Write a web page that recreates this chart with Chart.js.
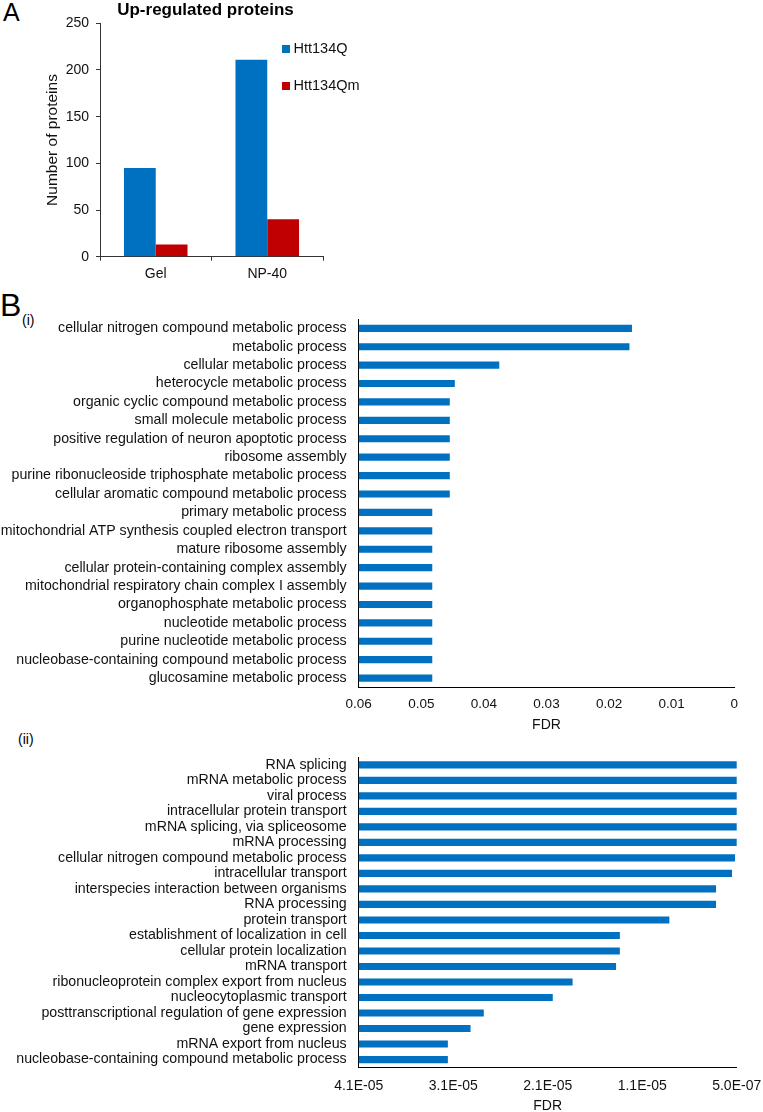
<!DOCTYPE html>
<html>
<head>
<meta charset="utf-8">
<script src="https://cdn.jsdelivr.net/npm/chart.js@4.4.1/dist/chart.umd.min.js"></script>
<style>
  html, body { margin: 0; padding: 0; background: #fff; overflow: hidden; }
  #page { position: relative; width: 763px; height: 1112px; font-family: "Liberation Sans", Arial, sans-serif; color: #000; }
  canvas { position: absolute; left: 0; }
  .tag { position: absolute; line-height: 1; white-space: nowrap; }
</style>
</head>
<body>
<div id="page">
  <div class="tag" style="left:3px; top:0px; font-size:25px;">A</div>
  <div class="tag" style="left:0px; top:289px; font-size:32px;">B</div>
  <div class="tag" style="left:22px; top:313px; font-size:14px;">(i)</div>
  <div class="tag" style="left:18px; top:732px; font-size:14px;">(ii)</div>
  <canvas id="chartA" width="411" height="290" style="top:0px;"></canvas>
  <canvas id="chartB1" width="763" height="438" style="top:300px;"></canvas>
  <canvas id="chartB2" width="763" height="378" style="top:738px;"></canvas>
</div>
<script>
// ---- DATA ----
// panel A: number of up-regulated proteins
const fractions = ['Gel', 'NP-40'];
const htt134Q = [95, 211];
const htt134Qm = [13, 40];
const countTicks = [0, 50, 100, 150, 200, 250];

// panel B(i): GO terms and FDR
const processes1 = [
  'cellular nitrogen compound metabolic process',
  'metabolic process',
  'cellular metabolic process',
  'heterocycle metabolic process',
  'organic cyclic compound metabolic process',
  'small molecule metabolic process',
  'positive regulation of neuron apoptotic process',
  'ribosome assembly',
  'purine ribonucleoside triphosphate metabolic process',
  'cellular aromatic compound metabolic process',
  'primary metabolic process',
  'mitochondrial ATP synthesis coupled electron transport',
  'mature ribosome assembly',
  'cellular protein-containing complex assembly',
  'mitochondrial respiratory chain complex I assembly',
  'organophosphate metabolic process',
  'nucleotide metabolic process',
  'purine nucleotide metabolic process',
  'nucleobase-containing compound metabolic process',
  'glucosamine metabolic process',
];
const fdr1 = [
  0.0164, 0.0168, 0.0376, 0.0447, 0.0455, 0.0455, 0.0455, 0.0455, 0.0455, 0.0455,
  0.0483, 0.0483, 0.0483, 0.0483, 0.0483, 0.0483, 0.0483, 0.0483, 0.0483, 0.0483,
];
const fdr1Ticks = [0, 0.01, 0.02, 0.03, 0.04, 0.05, 0.06];

// panel B(ii): GO terms and FDR
const processes2 = [
  'RNA splicing',
  'mRNA metabolic process',
  'viral process',
  'intracellular protein transport',
  'mRNA splicing, via spliceosome',
  'mRNA processing',
  'cellular nitrogen compound metabolic process',
  'intracellular transport',
  'interspecies interaction between organisms',
  'RNA processing',
  'protein transport',
  'establishment of localization in cell',
  'cellular protein localization',
  'mRNA transport',
  'ribonucleoprotein complex export from nucleus',
  'nucleocytoplasmic transport',
  'posttranscriptional regulation of gene expression',
  'gene expression',
  'mRNA export from nucleus',
  'nucleobase-containing compound metabolic process',
];
const fdr2 = [
  4.0e-7, 4.0e-7, 4.0e-7, 4.0e-7, 4.0e-7, 4.0e-7, 7.1e-7, 1.03e-6, 2.72e-6, 2.72e-6,
  7.66e-6, 1.29e-5, 1.29e-5, 1.33e-5, 1.79e-5, 2.0e-5, 2.73e-5, 2.87e-5, 3.11e-5, 3.11e-5,
];
// excel-style axis: min 5E-07, step 1E-05, labels rounded
const fdr2Ticks = [5.0e-7, 1.05e-5, 2.05e-5, 3.05e-5, 4.05e-5];
const fdr2TickLabels = ['5.0E-07', '1.1E-05', '2.1E-05', '3.1E-05', '4.1E-05'];

// ---- STYLE ----
const FONT = '"Liberation Sans", Arial, sans-serif';
const BLUE = '#0070C0';
const RED = '#C00000';
Chart.defaults.font.family = FONT;
Chart.defaults.color = '#111';
Chart.defaults.animation = false;
Chart.defaults.responsive = false;
Chart.defaults.devicePixelRatio = 1;

// legend drawn inside the plot, like the excel original
const insideLegend = {
  id: 'insideLegend',
  afterDraw(chart, args, opts) {
    if (!opts || !opts.show) return;
    const ctx = chart.ctx;
    ctx.save();
    ctx.font = opts.font;
    ctx.textBaseline = 'middle';
    ctx.textAlign = 'left';
    chart.data.datasets.forEach((ds, i) => {
      const y = opts.y + i * opts.gap;
      ctx.fillStyle = ds.backgroundColor;
      ctx.fillRect(opts.x, y - opts.box / 2, opts.box, opts.box);
      ctx.fillStyle = opts.color;
      ctx.fillText(ds.label, opts.x + opts.box + opts.spacing, y);
    });
    ctx.restore();
  },
};
Chart.register(insideLegend);

// ---- PANEL A ----
new Chart(document.getElementById('chartA'), {
  type: 'bar',
  data: {
    labels: fractions,
    datasets: [
      { label: 'Htt134Q', data: htt134Q, backgroundColor: BLUE },
      { label: 'Htt134Qm', data: htt134Qm, backgroundColor: RED },
    ],
  },
  options: {
    layout: { padding: 0 },
    categoryPercentage: 0.57,
    barPercentage: 1,
    scales: {
      x: {
        grid: { display: true, drawOnChartArea: false, drawTicks: true, tickLength: 4, color: '#333', offset: true },
        border: { display: true, color: '#333', width: 1 },
        ticks: { font: { size: 14 }, padding: 5, maxRotation: 0, color: '#111' },
        afterFit: s => { s.height = 33.3; },
      },
      y: {
        min: 0,
        max: 250,
        afterBuildTicks: s => { s.ticks = countTicks.map(v => ({ value: v })); },
        grid: { display: true, drawOnChartArea: false, drawTicks: true, tickLength: 4, color: '#333' },
        border: { display: true, color: '#333', width: 1 },
        ticks: { font: { size: 14 }, padding: 7, color: '#111' },
        title: {
          display: true,
          text: 'Number of proteins',
          font: { size: 15.5 },
          color: '#111',
          padding: { top: 43.4, bottom: 0 },
        },
        afterFit: s => { s.width = 100; },
      },
      // empty strip on the right so the legend sits over the plot and the title stays centred on the panel
      side: {
        type: 'linear',
        position: 'right',
        grid: { display: false },
        border: { display: false },
        ticks: { display: false },
        afterFit: s => { s.width = 88; },
      },
    },
    plugins: {
      legend: { display: false },
      tooltip: { enabled: false },
      title: {
        display: true,
        text: 'Up-regulated proteins',
        font: { size: 17, weight: 'bold' },
        color: '#000',
        padding: { top: 0, bottom: 2.9 },
      },
      insideLegend: {
        show: true,
        x: 282, y: 49, gap: 37, box: 8, spacing: 3.5,
        font: '14.5px ' + FONT,
        color: '#111',
      },
    },
  },
});

// ---- PANEL B helper ----
function goChart(canvasId, labels, values, base, xScale, pad, xAxisHeight, titlePad) {
  return new Chart(document.getElementById(canvasId), {
    type: 'bar',
    data: {
      labels: labels,
      datasets: [{
        data: values,
        base: base, // bars grow from the left end of the reversed FDR axis
        backgroundColor: BLUE,
        barThickness: 6.5,
      }],
    },
    options: {
      indexAxis: 'y',
      layout: { padding: pad },
      scales: {
        x: Object.assign({
          reverse: true,
          grid: { display: false, drawTicks: false },
          border: { display: true, color: '#000', width: 1 },
          title: {
            display: true,
            text: 'FDR',
            font: { size: 14 },
            color: '#111',
            padding: { top: 0, bottom: titlePad },
          },
          afterFit: s => { s.height = xAxisHeight; },
        }, xScale),
        y: {
          grid: { display: false, drawTicks: false },
          border: { display: true, color: '#000', width: 1 },
          ticks: { font: { size: 14.2, lineHeight: 1 }, padding: 12, autoSkip: false, color: '#111' },
          afterFit: s => { s.width = 358.7; },
        },
      },
      plugins: {
        legend: { display: false },
        tooltip: { enabled: false },
      },
    },
  });
}

// ---- PANEL B(i) ----
goChart('chartB1', processes1, fdr1, fdr1Ticks[fdr1Ticks.length - 1], {
  min: fdr1Ticks[0],
  max: fdr1Ticks[fdr1Ticks.length - 1],
  afterBuildTicks: s => { s.ticks = fdr1Ticks.map(v => ({ value: v })); },
  ticks: {
    font: { size: 13.5 }, padding: 8.9, maxRotation: 0, autoSkip: false, color: '#111',
    callback: v => String(Math.round(v * 100) / 100),
  },
}, { left: 0, right: 28.7, top: 15, bottom: 0 }, 50.7, 4.3);

// ---- PANEL B(ii) ----
goChart('chartB2', processes2, fdr2, fdr2Ticks[fdr2Ticks.length - 1], {
  min: fdr2Ticks[0],
  max: fdr2Ticks[fdr2Ticks.length - 1],
  afterBuildTicks: s => { s.ticks = fdr2Ticks.map(v => ({ value: v })); },
  ticks: {
    font: { size: 14 }, padding: 10, maxRotation: 0, autoSkip: false, color: '#111',
    callback: (v, i) => fdr2TickLabels[i],
  },
}, { left: 0, right: 26.3, top: 3.5, bottom: 0 }, 48.7, 1.9);
</script>
</body>
</html>
